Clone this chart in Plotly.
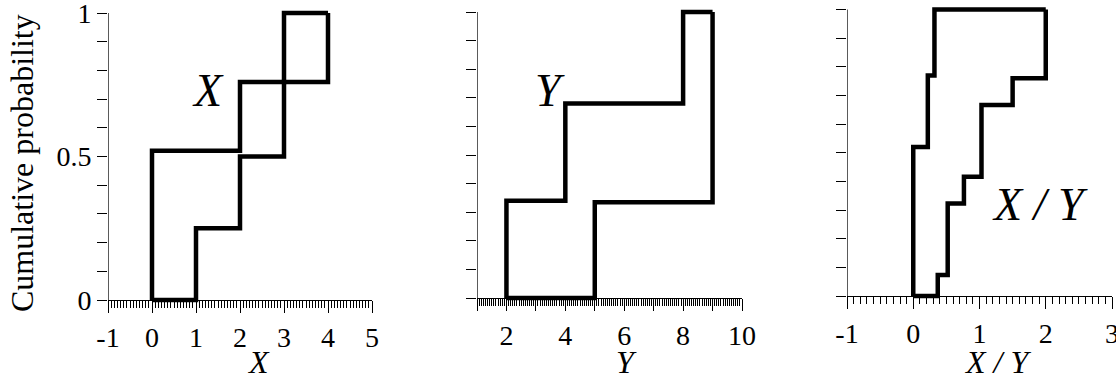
import plotly.graph_objects as go

# ---------------- data ----------------
# X p-box (step points, drawn with horizontal-then-vertical steps)
x_upper_v = [0, 0, 2, 3, 4]
x_upper_p = [0, 0.52, 0.76, 1.0, 1.0]
x_lower_v = [0, 1, 2, 3, 4]
x_lower_p = [0, 0.25, 0.50, 0.76, 1.0]

# Y p-box
y_upper_v = [2, 2, 4, 8, 9]
y_upper_p = [0, 0.34, 0.68, 1.0, 1.0]
y_lower_v = [2, 5, 9]
y_lower_p = [0, 0.335, 1.0]

# X/Y p-box
r_upper_v = [0, 0, 0.22, 0.32, 2.0]
r_upper_p = [0, 0.52, 0.77, 1.0, 1.0]
r_lower_v = [0, 0.37, 0.52, 0.765, 1.03, 1.5, 2.0]
r_lower_p = [0, 0.073, 0.323, 0.416, 0.667, 0.76, 1.0]

prob_ticks = [round(i * 0.1, 1) for i in range(11)]
prob_labels = ["0", "", "", "", "", "0.5", "", "", "", "", "1"]

x_ticks = [-1, 0, 1, 2, 3, 4, 5]
x_labels = ["-1", "0", "1", "2", "3", "4", "5"]
y_ticks = [1, 2, 3, 4, 5, 6, 7, 8, 9, 10]
y_labels = ["", "2", "", "4", "", "6", "", "8", "", "10"]
r_ticks = [-1, 0, 1, 2, 3]
r_labels = ["-1", "0", "1", "2", "3"]

panel_names = ["X", "Y", "X / Y"]
y_title = "Cumulative probability"

# ---------------- layout helpers ----------------
W, H = 1116, 378
FONT = "Liberation Serif"


def fx(px):
    return px / W


def fy(py):
    return 1 - py / H


PAD = 0.03
panels = [
    dict(xpx=(108, 372), xr=(-1, 5), y0=300, y1=13, minor=1 / 14,
         tv=x_ticks, tt=x_labels, ylab=prob_labels,
         data=[(x_upper_v, x_upper_p), (x_lower_v, x_lower_p)],
         label_xy=(208, 91), title_xy=(258, 362)),
    dict(xpx=(477, 742), xr=(1, 10), y0=298, y1=12, minor=1 / 14,
         tv=y_ticks, tt=y_labels, ylab=[""] * 11,
         data=[(y_upper_v, y_upper_p), (y_lower_v, y_lower_p)],
         label_xy=(550, 90), title_xy=(627, 362)),
    dict(xpx=(847, 1112), xr=(-1, 3), y0=296, y1=9.5, minor=0.1,
         tv=r_ticks, tt=r_labels, ylab=[""] * 11,
         data=[(r_upper_v, r_upper_p), (r_lower_v, r_lower_p)],
         label_xy=(1040, 204), title_xy=(997, 362)),
]

fig = go.Figure()
layout = dict(
    width=W, height=H,
    margin=dict(l=0, r=0, t=0, b=0),
    paper_bgcolor="white", plot_bgcolor="white",
    showlegend=False,
    font=dict(family=FONT, color="black"),
)
annotations = []
shapes = []

for i, pn in enumerate(panels):
    k = "" if i == 0 else str(i + 1)
    span = pn["y0"] - pn["y1"]
    dom_bot = pn["y0"] + PAD * span
    dom_top = pn["y1"] - PAD * span
    for v, p in pn["data"]:
        fig.add_trace(go.Scatter(
            x=v, y=p, mode="lines", line_shape="hv",
            line=dict(color="black", width=4.5),
            xaxis="x" + k, yaxis="y" + k, hoverinfo="skip"))
    layout["xaxis" + k] = dict(
        domain=[fx(pn["xpx"][0]), fx(pn["xpx"][1])],
        range=list(pn["xr"]), anchor="free", position=fy(pn["y0"]),
        showline=True, linecolor="black", linewidth=1.3,
        showgrid=False, zeroline=False,
        tickmode="array", tickvals=pn["tv"], ticktext=pn["tt"],
        ticks="outside", ticklen=12, tickwidth=1.3, tickcolor="black",
        minor=dict(dtick=pn["minor"], tick0=0, ticks="outside", ticklen=7,
                   tickwidth=1, tickcolor="black", showgrid=False),
        tickfont=dict(family=FONT, size=28, color="black"),
        ticklabeloverflow="allow",
        automargin=False, fixedrange=True,
    )
    layout["yaxis" + k] = dict(
        domain=[fy(dom_bot), fy(dom_top)],
        range=[-PAD, 1 + PAD], anchor="x" + k,
        showline=False, showgrid=False, zeroline=False,
        tickmode="array", tickvals=prob_ticks, ticktext=pn["ylab"],
        ticks="outside", ticklen=10, tickwidth=1.3, tickcolor="black",
        tickfont=dict(family=FONT, size=28, color="black"),
        ticklabeloverflow="allow",
        automargin=False, fixedrange=True,
    )
    # y axis line from p=0 to p=1 at the left edge of the x range
    shapes.append(dict(
        type="line", xref="x" + k, yref="y" + k,
        x0=pn["xr"][0], x1=pn["xr"][0], y0=prob_ticks[0], y1=prob_ticks[-1],
        line=dict(color="black", width=1.3)))
    # in-panel label
    lx, ly = pn["label_xy"]
    annotations.append(dict(
        text="<i>" + panel_names[i] + "</i>", xref="paper", yref="paper",
        x=fx(lx), y=fy(ly), xanchor="center", yanchor="middle",
        showarrow=False, font=dict(family=FONT, size=46, color="black")))
    # axis title
    tx, ty = pn["title_xy"]
    annotations.append(dict(
        text="<i>" + panel_names[i] + "</i>", xref="paper", yref="paper",
        x=fx(tx), y=fy(ty), xanchor="center", yanchor="middle",
        showarrow=False, font=dict(family=FONT, size=32, color="black")))

annotations.append(dict(
    text=y_title, xref="paper", yref="paper", x=fx(22), y=fy(163),
    xanchor="center", yanchor="middle", textangle=-90, showarrow=False,
    font=dict(family=FONT, size=32, color="black")))

layout["annotations"] = annotations
layout["shapes"] = shapes
fig.update_layout(**layout)
fig.write_html(
    "out.html",
    config={"displayModeBar": False},
    post_script="document.body.style.margin='0';document.body.style.padding='0';",
)
